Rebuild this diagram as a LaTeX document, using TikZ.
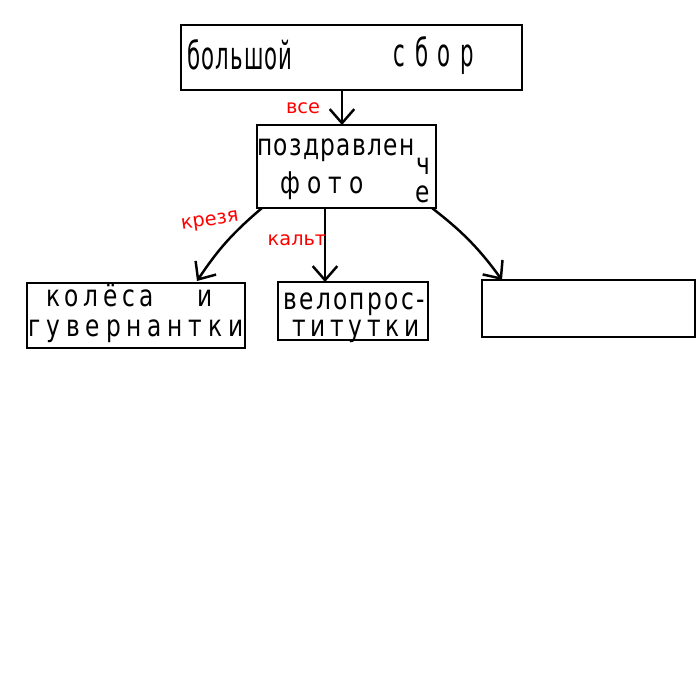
\documentclass[tikz,border=0pt]{standalone}
\usepackage{fontspec}
\setmainfont{DejaVu Sans}
\usepackage{tikz}
\usetikzlibrary{arrows.meta}
\tikzset{
  blk_box/.style = {draw=black, line width=0.7pt, rectangle, inner sep=0pt},% black frame
  txt/.style = {inner sep=0pt, xscale=0.78, text height=6.2pt, text depth=1.5pt,
    font=\fontsize{8.5}{10}\selectfont\addfontfeature{LetterSpace=#1}},
  txt/.default = 10,
  big_txt/.style = {inner sep=0pt, xscale=0.55,
    font=\fontsize{11}{13}\selectfont\addfontfeature{LetterSpace=#1}},
  big_txt/.default = 5,
  red_lbl/.style = {inner sep=0pt, red, font=\fontsize{5.5}{6}\selectfont},% red edge label
  arr/.style = {line width=0.7pt, -{Straight Barb[length=4pt,width=7pt]}}
}

\begin{document}
\begin{tikzpicture}
	\useasboundingbox (0,0) rectangle (7,-7);
	% boxes
	\node [blk_box, minimum width=3.41cm, minimum height=0.65cm] (sbor) at (3.515,-0.575) {};
	\node [blk_box, minimum width=1.79cm, minimum height=0.83cm] (foto) at (3.465,-1.665) {};
	\node [blk_box, minimum width=2.18cm, minimum height=0.65cm] (koles) at (1.36,-3.155) {};
	\node [blk_box, minimum width=1.50cm, minimum height=0.58cm] (velo) at (3.53,-3.11) {};
	\node [blk_box, minimum width=2.13cm, minimum height=0.57cm] (empty) at (5.885,-3.085) {};
	% texts
	\node [big_txt] (t_bol) at (2.40,-0.55) {большой};
	\node [big_txt=45] (t_sbor) at (4.34,-0.55) {сбор};
	\node [txt=6] (t_pozd) at (3.36,-1.47) {поздравлен};
	\node [txt] (t_ch) at (4.23,-1.66) {ч};
	\node [txt=30] (t_foto) at (3.22,-1.85) {фото};
	\node [txt] (t_e) at (4.23,-1.945) {е};
	\node [txt=20] (t_kol) at (1.00,-2.98) {колёса};
	\node [txt] (t_i) at (2.05,-2.98) {и};
	\node [txt=25] (t_guv) at (1.36,-3.28) {гувернантки};
	\node [txt] (t_velo) at (3.54,-3.01) {велопрос-};
	\node [txt=20] (t_tit) at (3.56,-3.28) {титутки};
	% arrows
	\coordinate (s1) at (3.42,-0.90);
	\coordinate (e1) at (3.42,-1.25);
	\coordinate (s2) at (2.62,-2.08);
	\coordinate (e2) at (1.97,-2.81);
	\coordinate (s3) at (3.25,-2.08);
	\coordinate (e3) at (3.25,-2.82);
	\coordinate (s4) at (4.32,-2.08);
	\coordinate (e4) at (5.02,-2.80);
	\draw [arr] (s1) -- (e1);
	\draw [arr] (s2) to[bend right=8] (e2);
	\draw [arr] (s3) -- (e3);
	\draw [arr] (s4) to[bend left=8] (e4);
	% labels
	\node [red_lbl] (l_vse) at (3.03,-1.08) {все};
	\node [red_lbl, rotate=8] (l_krez) at (2.10,-2.22) {крезя};
	\node [red_lbl] (l_kalt) at (2.97,-2.40) {кальт};
\end{tikzpicture}
\end{document}
